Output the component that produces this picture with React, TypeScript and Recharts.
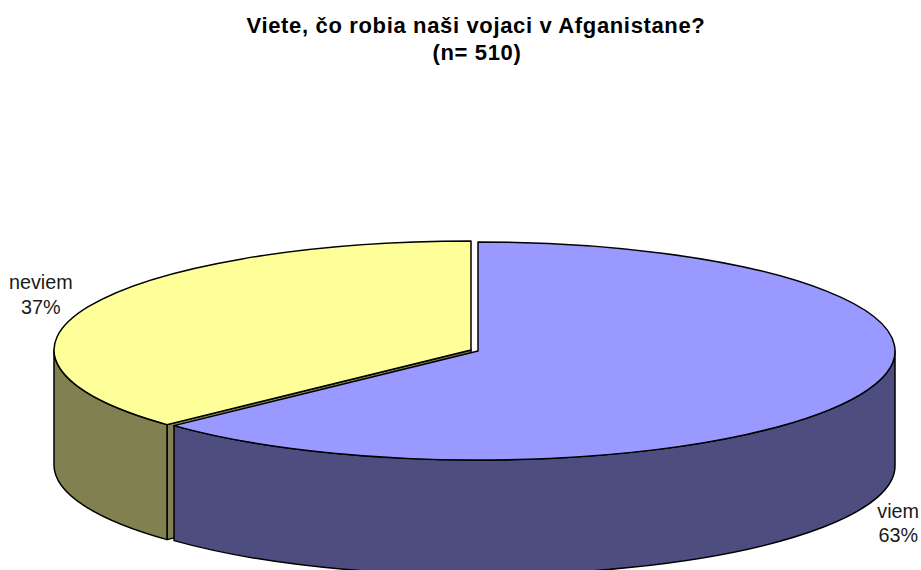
import React from 'react';
import { PieChart, Pie } from 'recharts';

const categories = ['neviem', 'viem'];
const values = [37, 63];
const topColors = ['#FFFF99', '#9999FF'];
const wallColors = ['#808050', '#4D4D80'];
const titleLines = ['Viete, čo robia naši vojaci v Afganistane?', '(n= 510)'];

const data = categories.map((name, i) => ({
  name,
  value: values[i],
  fill: topColors[i],
  wall: wallColors[i],
}));

// the pie is squashed into an ellipse and given a wall, to look like Excel's 3D pie
const SQUASH = 109 / 417;
const DEPTH = 115;
const EXPLODE_X = 3.5;
const EXPLODE_Y = 0.5;
const FONT = '"Liberation Sans", Arial, sans-serif';

const rad = (a: number) => (a * Math.PI) / 180;

const Slice = (props: any) => {
  const { cx, cy, startAngle, endAngle, outerRadius, fill, payload } = props;
  const mid = (startAngle + endAngle) / 2;
  const side = mid > 180 ? 1 : -1;
  const ox = cx + side * EXPLODE_X;
  const oy = cy + side * EXPLODE_Y;
  const rx = outerRadius;
  const ry = outerRadius * SQUASH;
  const px = (a: number) => ox + rx * Math.cos(rad(a));
  const py = (a: number) => oy - ry * Math.sin(rad(a));
  const arc = `A ${rx} ${ry} 0`;

  const large = endAngle - startAngle > 180 ? 1 : 0;
  const top = `M ${ox} ${oy} L ${px(startAngle)} ${py(startAngle)} ${arc} ${large} 0 ${px(endAngle)} ${py(endAngle)} Z`;

  const wallFrom = Math.max(startAngle, 180);
  const wallTo = Math.min(endAngle, 360);
  const wall =
    wallTo > wallFrom
      ? `M ${px(wallFrom)} ${py(wallFrom)} ${arc} 0 0 ${px(wallTo)} ${py(wallTo)} ` +
        `L ${px(wallTo)} ${py(wallTo) + DEPTH} ${arc} 0 1 ${px(wallFrom)} ${py(wallFrom) + DEPTH} Z`
      : null;

  const showsCut = endAngle > 180 && endAngle < 360;
  const cut = showsCut
    ? `M ${ox} ${oy} L ${px(endAngle)} ${py(endAngle)} L ${px(endAngle)} ${py(endAngle) + DEPTH} L ${ox} ${oy + DEPTH} Z`
    : null;

  const line = { stroke: '#000', strokeWidth: 1.5, strokeLinejoin: 'round' as const };
  return (
    <g>
      {cut && <path d={cut} fill={payload.wall} {...line} />}
      {wall && <path d={wall} fill={payload.wall} {...line} />}
      <path d={top} fill={fill} {...line} />
    </g>
  );
};

const renderLabel = (props: any) => {
  const { cx, cy, midAngle, outerRadius, name, percent } = props;
  const lower = midAngle > 180;
  const x = cx + outerRadius * Math.cos(rad(midAngle)) + (lower ? 41 : -51);
  const y = cy - outerRadius * SQUASH * Math.sin(rad(midAngle)) + (lower ? DEPTH + 9 : -18);
  return (
    <text x={x} y={y} textAnchor="middle" fontFamily={FONT} fontSize={19.8} fill="#1a1a1a">
      <tspan x={x} dy={0}>{name}</tspan>
      <tspan x={x} dy={24.5}>{`${Math.round(percent * 100)}%`}</tspan>
    </text>
  );
};

export default function App() {
  return (
    <div style={{ position: 'absolute', left: 0, top: 0, width: 921, height: 570, overflow: 'hidden', background: '#fff' }}>
      <PieChart width={921} height={570} margin={{ top: 0, right: 0, bottom: 0, left: 0 }}>
        <text x={476} textAnchor="middle" fontFamily={FONT} fontSize={22} fontWeight="bold" letterSpacing={0.65} fill="#000">
          <tspan x={476} y={33}>{titleLines[0]}</tspan>
          <tspan x={477} y={60}>{titleLines[1]}</tspan>
        </text>
        <Pie
          data={data}
          dataKey="value"
          nameKey="name"
          cx={474.5}
          cy={350.5}
          outerRadius={417}
          startAngle={90}
          endAngle={450}
          paddingAngle={0}
          shape={Slice}
          label={renderLabel}
          labelLine={false}
          isAnimationActive={false}
        />
      </PieChart>
    </div>
  );
}
